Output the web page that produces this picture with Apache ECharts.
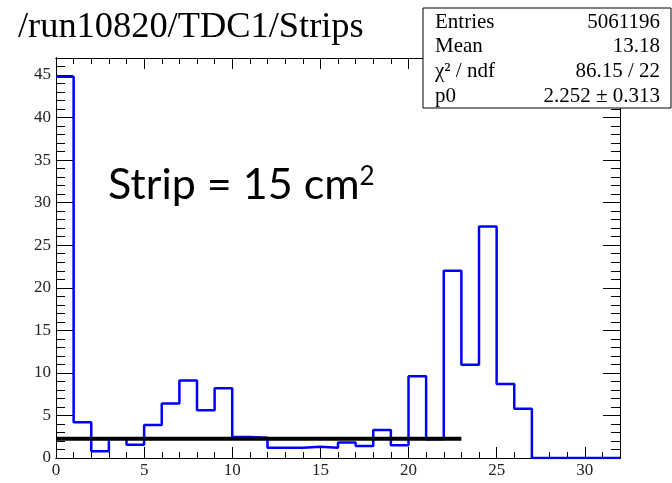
<!DOCTYPE html>
<html>
<head>
<meta charset="utf-8">
<script src="https://cdn.jsdelivr.net/npm/echarts@6/dist/echarts.min.js"></script>
<style>
  html, body { margin: 0; padding: 0; background: #fff; }
  #main { width: 672px; height: 483px; }
</style>
</head>
<body>
<div id="main"></div>
<script>
// histogram contents, one bin per strip (bin i covers [i, i+1))
const binCounts = [44.8, 4.2, 0.78, 2.3, 1.56, 3.87, 6.4, 9.1, 5.6, 8.2,
  2.48, 2.38, 1.2, 1.2, 1.33, 1.2, 1.83, 1.4, 3.3, 1.5,
  9.6, 2.2, 22.0, 10.95, 27.2, 8.7, 5.8, 0, 0, 0, 0, 0]
const fitValue = 2.252
const fitRange = [0, 23]
const xRange = [0, 32]
const yRange = [0, 47]

const titleText = '/run10820/TDC1/Strips'
const statNames = ['Entries', 'Mean', 'χ² / ndf', 'p0']
const statValues = ['5061196', '13.18', '86.15 / 22', '2.252 ± 0.313']

const serif = '"Liberation Serif", "DejaVu Serif", serif'

// step outline points, last edge closes the histogram
const histPoints = binCounts.map((v, i) => [i, v])
histPoints.push([binCounts.length, binCounts[binCounts.length - 1]])

const fitPoints = [[fitRange[0], fitValue], [fitRange[1], fitValue]]

function makeAxis(kind, position, interval, tickLen, labels) {
  const range = kind === 'x' ? xRange : yRange
  return {
    type: 'value',
    position: position,
    min: range[0],
    max: range[1],
    interval: interval,
    splitLine: { show: false },
    axisLine: { show: true, onZero: false, lineStyle: { color: '#000', width: 1 } },
    axisTick: { show: true, inside: true, length: tickLen, lineStyle: { color: '#000', width: 1 } },
    axisLabel: {
      show: labels,
      showMaxLabel: false,
      color: '#222',
      fontFamily: serif,
      fontSize: 17,
      margin: kind === 'x' ? 4 : 5
    }
  }
}

const chart = echarts.init(document.getElementById('main'))

const statsGraphics = [{
  type: 'rect',
  z: 100,
  shape: { x: 423, y: 8, width: 248, height: 100 },
  style: { fill: '#fff', stroke: '#000', lineWidth: 1 }
}]
statNames.forEach((name, i) => {
  const y = 22 + i * 24.8
  statsGraphics.push({
    type: 'text', z: 101,
    style: { text: name, x: 435, y: y, font: '21px ' + serif, fill: '#000', textVerticalAlign: 'middle' }
  })
  statsGraphics.push({
    type: 'text', z: 101,
    style: { text: statValues[i], x: 660, y: y, font: '21px ' + serif, fill: '#000', textAlign: 'right', textVerticalAlign: 'middle' }
  })
})

const option = {
  animation: false,
  backgroundColor: '#fff',
  grid: { left: 56, right: 52, top: 58, bottom: 25 },
  xAxis: [
    makeAxis('x', 'bottom', 1, 6, false),
    makeAxis('x', 'bottom', 5, 11, true),
    makeAxis('x', 'top', 1, 6, false),
    makeAxis('x', 'top', 5, 11, false)
  ],
  yAxis: [
    makeAxis('y', 'left', 1, 9, false),
    makeAxis('y', 'left', 5, 17, true),
    makeAxis('y', 'right', 1, 9, false),
    makeAxis('y', 'right', 5, 17, false)
  ],
  series: [
    {
      type: 'line',
      step: 'end',
      data: histPoints,
      symbol: 'none',
      lineStyle: { color: '#0000ff', width: 2.5 },
      z: 3
    },
    {
      type: 'line',
      data: fitPoints,
      symbol: 'none',
      lineStyle: { color: '#000', width: 4 },
      z: 4
    }
  ],
  graphic: [
    {
      type: 'text',
      style: { text: titleText, x: 18, y: 27, font: '36.4px ' + serif, fill: '#000', textVerticalAlign: 'middle' }
    },
    {
      type: 'text',
      style: {
        text: 'Strip = 15 cm{sup|2}',
        x: 108, y: 164,
        font: '43px Lato, "Open Sans", sans-serif',
        fill: '#000',
        rich: {
          sup: { fontSize: 26, fontFamily: 'Lato, "Open Sans", sans-serif', verticalAlign: 'top', lineHeight: 28, padding: [0, 0, 14, 0] }
        }
      }
    }
  ].concat(statsGraphics)
}

chart.setOption(option)
</script>
</body>
</html>
